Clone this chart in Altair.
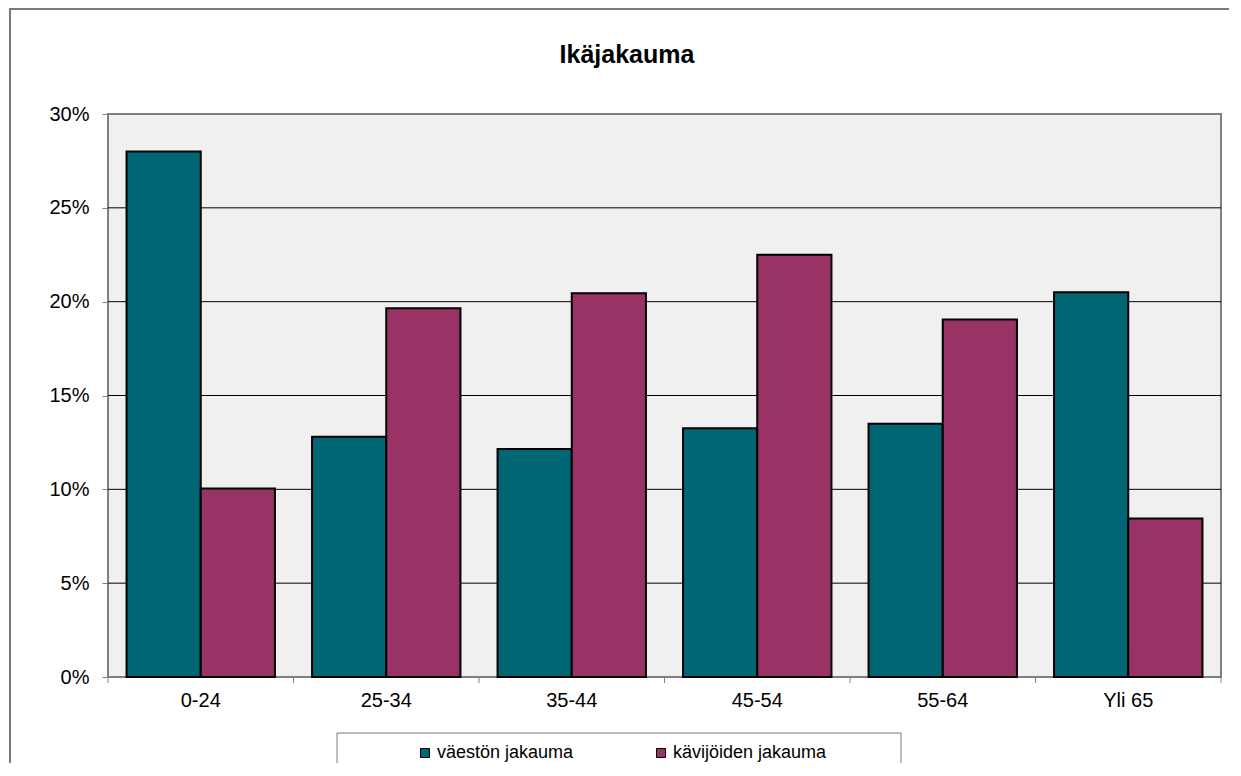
import altair as alt
import pandas as pd

categories = ["0-24", "25-34", "35-44", "45-54", "55-64", "Yli 65"]
series_names = ["väestön jakauma", "kävijöiden jakauma"]
vaeston = [28.0, 12.8, 12.15, 13.25, 13.5, 20.5]
kavijoiden = [10.05, 19.65, 20.45, 22.5, 19.05, 8.45]
colors = ["#006673", "#993366"]
y_ticks = [0.0, 0.05, 0.10, 0.15, 0.20, 0.25, 0.30]
title_text = "Ikäjakauma"

rows = []
for i, c in enumerate(categories):
    rows.append({"ika": c, "sarja": series_names[0], "osuus": vaeston[i] / 100})
    rows.append({"ika": c, "sarja": series_names[1], "osuus": kavijoiden[i] / 100})
df = pd.DataFrame(rows)

W, H = 1113, 563
FONT = "Liberation Sans"

xscale = alt.Scale(domain=categories, paddingInner=0, paddingOuter=0)
yscale = alt.Scale(domain=[0, 0.3], nice=False)

xaxis = alt.Axis(title=None, labelAngle=0, ticks=False, tickSize=0, domain=False,
                 labelFontSize=20, labelFont=FONT, labelColor="black", labelPadding=13)
yaxis = alt.Axis(values=y_ticks, format=".0%", title=None, grid=False, domain=False,
                 tickColor="#808080", tickSize=6, labelPadding=13, labelFontSize=20,
                 labelFont=FONT, labelColor="black")

outer = alt.Chart(alt.Data(values=[{}])).mark_rect(
    filled=False, stroke="#7a7a7a", strokeWidth=2
).encode(x=alt.value(-98), x2=alt.value(1300), y=alt.value(-105), y2=alt.value(720))

legend_box = alt.Chart(alt.Data(values=[{}])).mark_rect(
    fill="white", stroke="#7a7a7a", strokeWidth=1
).encode(x=alt.value(229), x2=alt.value(793), y=alt.value(619), y2=alt.value(720))

grid_df = pd.DataFrame({"v": y_ticks[1:-1]})
grid = alt.Chart(grid_df).mark_rule(color="black", strokeWidth=1).encode(
    y=alt.Y("v:Q", scale=yscale, axis=yaxis)
)

bars = alt.Chart(df).mark_bar(stroke="black", strokeWidth=2, opacity=1).encode(
    x=alt.X("ika:N", scale=xscale, sort=categories, axis=xaxis),
    xOffset=alt.XOffset("sarja:N", scale=alt.Scale(domain=series_names, paddingInner=0, paddingOuter=0.25),
                        sort=series_names),
    y=alt.Y("osuus:Q", scale=yscale, axis=yaxis),
    color=alt.Color("sarja:N", scale=alt.Scale(domain=series_names, range=colors), sort=series_names,
                    legend=alt.Legend(title=None, orient="none", legendX=308, legendY=630,
                                      direction="horizontal", symbolType="square", symbolSize=81,
                                      symbolStrokeColor="black", symbolStrokeWidth=1,
                                      symbolOpacity=1, labelFontSize=18, labelFont=FONT,
                                      labelColor="black", labelOffset=3, columnPadding=78,
                                      padding=0)),
)

tick_df = pd.DataFrame({"ika": categories})
xticks = alt.Chart(tick_df).mark_rule(color="#808080", strokeWidth=1).encode(
    x=alt.X("ika:N", scale=xscale, sort=categories, bandPosition=0, axis=xaxis),
    y=alt.value(H), y2=alt.value(H + 6)
)
end_tick = alt.Chart(alt.Data(values=[{}])).mark_rule(color="#808080", strokeWidth=1).encode(
    x=alt.value(W), y=alt.value(H), y2=alt.value(H + 6)
)

title = alt.Chart(alt.Data(values=[{"t": title_text}])).mark_text(
    font=FONT, fontSize=25, fontWeight="bold", align="center", baseline="alphabetic", color="black"
).encode(x=alt.value(519), y=alt.value(-51), text="t:N")

chart = alt.layer(outer, legend_box, grid, bars, xticks, end_tick, title).properties(
    width=W, height=H, autosize="none",
    padding={"left": 100, "top": 106, "right": 8, "bottom": 86},
    background="white",
).configure_view(fill="#F0F0F0", stroke="#808080", strokeWidth=2)

chart.save("out.html", embed_options={"renderer": "svg", "actions": False})
